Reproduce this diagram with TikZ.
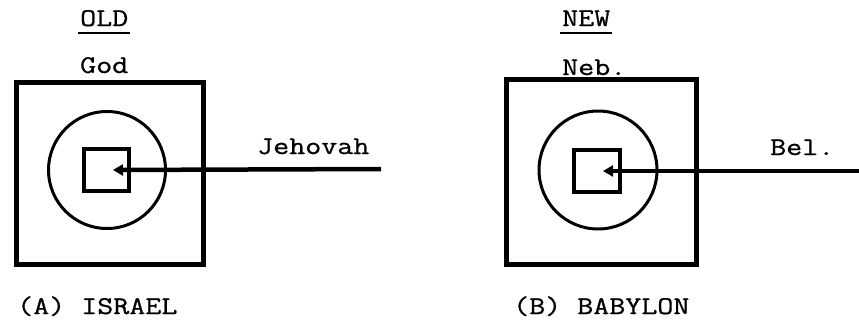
\documentclass[tikz,border=0pt]{standalone}
\usepackage{fontspec}
\newfontfamily\twfont{Latin Modern Mono}[FakeStretch=1.22, FakeBold=0.8]
\usetikzlibrary{arrows.meta}
\tikzset{
  lbl/.style={anchor=base west, inner sep=0pt, font=\twfont\fontsize{25.5}{30}\selectfont},
  outerbox/.style={draw, line width=5pt, inner sep=0pt, outer sep=0pt, minimum width=187pt, minimum height=182pt},
  ring/.style={draw, circle, line width=3pt, inner sep=0pt, outer sep=0pt, minimum size=117pt},
  innerbox/.style={draw, line width=4pt, inner sep=0pt, outer sep=0pt, minimum width=45pt, minimum height=42pt},
  conn/.style={line width=4.5pt, -{Triangle[length=10pt,width=11pt]}},
  uline/.style={line width=1.8pt}
}
\begin{document}
\begin{tikzpicture}[x=1pt,y=-1pt]
\useasboundingbox (0,0) rectangle (859,327);
% Panel A
\node[lbl] (old) at (80,26) {OLD};
\node[lbl] (god) at (80,73) {God};
\node[outerbox] (sqA) at (110,173) {};
\node[ring] (cA) at (107,170) {};
\node[innerbox] (inA) at (106.5,170) {};
\coordinate (endA) at (381,169);
\draw[conn] (endA) -- ([xshift=6.5pt]inA.center);
\node[lbl] (jeh) at (257,154) {Jehovah};
\node[lbl] (capA) at (17,314) {(A) ISRAEL};
\draw[uline] ([xshift=-2pt,yshift=-7pt]old.base west) -- ([xshift=2pt,yshift=-7pt]old.base east);
% Panel B
\node[lbl] (new) at (562,26) {NEW};
\node[lbl] (neb) at (562,75) {Neb.};
\node[outerbox, minimum width=190pt, minimum height=185pt] (sqB) at (601.5,172) {};
\node[ring, minimum size=118pt] (cB) at (598,170) {};
\node[innerbox, minimum width=46pt] (inB) at (597,171) {};
\coordinate (endB) at (862,171);
\draw[conn] (endB) -- ([xshift=6pt]inB.center);
\node[lbl] (bel) at (770,155) {Bel.};
\node[lbl] (capB) at (513,314) {(B) BABYLON};
\draw[uline] ([xshift=-2pt,yshift=-7pt]new.base west) -- ([xshift=2pt,yshift=-7pt]new.base east);
\end{tikzpicture}
\end{document}
